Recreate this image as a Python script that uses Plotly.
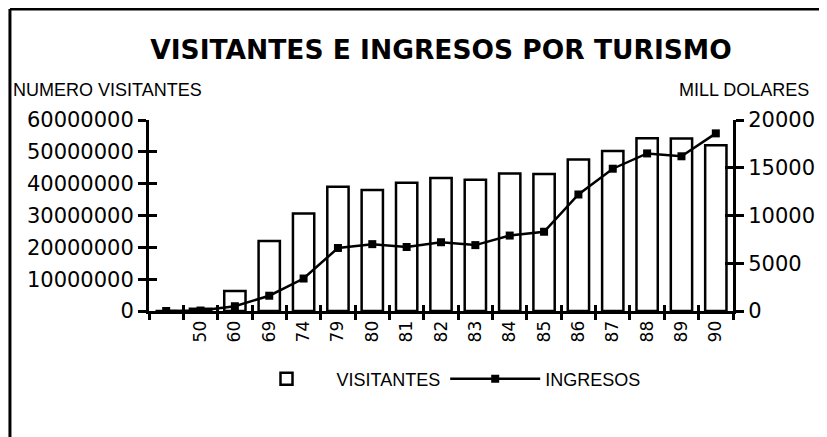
import plotly.graph_objects as go

# Spanish tourism: visitors (bars, left axis) and receipts in million USD (line, right axis)
years = [" ", "50", "60", "69", "74", "79", "80", "81", "82", "83",
         "84", "85", "86", "87", "88", "89", "90"]
visitantes = [0, 700000, 6300000, 22000000, 30600000, 39000000, 38000000,
              40300000, 41800000, 41200000, 43200000, 43000000, 47600000,
              50300000, 54300000, 54200000, 52100000]
ingresos = [0, 50, 500, 1600, 3400, 6600, 7000, 6700, 7200, 6900,
            7900, 8300, 12200, 14900, 16500, 16200, 18600]

TICK_FONT = dict(family="DejaVu Sans", size=21, color="black")
TEXT_FONT = "Liberation Sans"

# the page body adds an 8px offset, so the figure is sized to fill the rest
W, H = 819, 429
OFF = 8
PL, PR, PT, PB = 149, 737, 120, 311  # plot area in screen pixels


def px(x):
    return (x - PL) / (PR - PL)


def py(y):
    return (PB - y) / (PB - PT)


fig = go.Figure()

fig.add_trace(go.Bar(
    x=years, y=visitantes, name="VISITANTES",
    marker=dict(color="white", line=dict(color="black", width=2.5)),
    yaxis="y",
))
fig.add_trace(go.Scatter(
    x=years, y=ingresos, name="INGRESOS", mode="lines+markers",
    line=dict(color="black", width=2.5),
    marker=dict(symbol="square", size=8, color="black"),
    yaxis="y2",
))
# empty helper traces so the tick-only overlay axes get drawn (crossing ticks)
fig.add_trace(go.Scatter(x=[], y=[], xaxis="x3", yaxis="y", showlegend=False, hoverinfo="skip"))
fig.add_trace(go.Scatter(x=[], y=[], xaxis="x", yaxis="y3", showlegend=False, hoverinfo="skip"))
fig.add_trace(go.Scatter(x=[], y=[], xaxis="x", yaxis="y4", showlegend=False, hoverinfo="skip"))

n = len(years)
axis_common = dict(showgrid=False, zeroline=False, linecolor="black", linewidth=3,
                   tickcolor="black", tickwidth=2.5)
tick_only = dict(showticklabels=False, showline=False, showgrid=False, zeroline=False,
                 tickcolor="black", tickwidth=2.5, ticks="inside")

fig.update_layout(
    width=W, height=H,
    margin=dict(l=PL - OFF, r=W - (PR - OFF), t=PT - OFF, b=H - (PB - OFF)),
    paper_bgcolor="white", plot_bgcolor="white",
    bargap=0.38,
    title=dict(text="<b>VISITANTES E INGRESOS POR TURISMO</b>",
               x=0.5, xref="paper", xanchor="center",
               y=1 - (50 - OFF) / H, yanchor="middle",
               font=dict(family="DejaVu Sans", size=26.5, color="black")),
    xaxis=dict(type="category", showline=True, ticks="outside", ticklen=6,
               tickson="boundaries", tickangle=-90,
               tickfont=dict(family="DejaVu Sans", size=17, color="black"),
               range=[-0.5, n - 0.5], **axis_common),
    xaxis3=dict(overlaying="x", range=[-0.5, n - 0.5], tick0=-0.5, dtick=1,
                ticklen=6, **tick_only),
    yaxis=dict(range=[0, 60000000], dtick=10000000, tickformat="d",
               showline=True, ticks="outside", ticklen=8, tickfont=TICK_FONT,
               **axis_common),
    yaxis3=dict(overlaying="y", range=[0, 60000000], dtick=10000000,
                ticklen=8, **tick_only),
    yaxis2=dict(overlaying="y", side="right", range=[0, 20000], dtick=5000,
                tickformat="d", showline=True, ticks="outside", ticklen=8,
                tickfont=TICK_FONT, **axis_common),
    yaxis4=dict(overlaying="y", side="right", range=[0, 20000], dtick=5000,
                ticklen=8, **tick_only),
    legend=dict(orientation="h", x=0.5, xanchor="center", y=py(379), yanchor="middle",
                font=dict(family=TEXT_FONT, size=18, color="black"),
                itemwidth=90, bgcolor="rgba(0,0,0,0)"),
    showlegend=True,
)

fig.add_annotation(text="NUMERO VISITANTES", xref="paper", yref="paper",
                   x=px(10), y=py(90), xanchor="left", yanchor="middle",
                   showarrow=False, font=dict(family=TEXT_FONT, size=18, color="black"))
fig.add_annotation(text="MILL DOLARES", xref="paper", yref="paper",
                   x=px(816), y=py(90), xanchor="right", yanchor="middle",
                   showarrow=False, font=dict(family=TEXT_FONT, size=18, color="black"))

# frame lines (left and top only, as in the scanned original)
fig.add_shape(type="line", xref="paper", yref="paper",
              x0=px(9), x1=px(9), y0=py(9), y1=py(440),
              line=dict(color="black", width=3))
fig.add_shape(type="line", xref="paper", yref="paper",
              x0=px(9), x1=px(830), y0=py(9), y1=py(9),
              line=dict(color="black", width=3))

fig.write_html("out.html")
